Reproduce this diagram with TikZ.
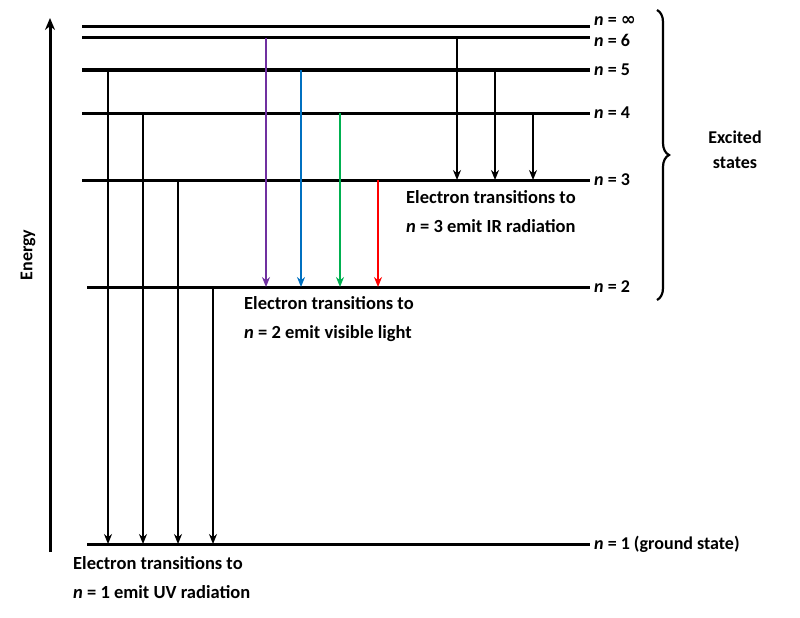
\documentclass[tikz,border=0pt]{standalone}
\usepackage{fontspec}
\setmainfont{Carlito}
\newfontfamily\symfont{DejaVu Sans}
\usetikzlibrary{arrows.meta,decorations.pathreplacing}
\definecolor{cpurple}{RGB}{112,48,160}
\definecolor{cblue}{RGB}{0,112,192}
\definecolor{cgreen}{RGB}{0,176,80}
\definecolor{cred}{RGB}{255,0,0}
\begin{document}
\begin{tikzpicture}[x=1pt,y=-1pt,
  lvl/.style={line width=3pt},
  tr/.style={line width=2.2pt,-{Stealth[length=10pt,width=8pt]}},
  lab/.style={font=\bfseries\fontsize{18}{21}\selectfont,anchor=west,inner sep=1pt},
  txt/.style={font=\bfseries\fontsize{18.5}{29}\selectfont,align=left,anchor=north west,inner sep=0pt}]
\useasboundingbox (0,0) rectangle (800,618);
\foreach \n/\y/\x in {inf/27/82, six/38/82, five/70/82, four/113/82, three/180/82, two/287/87, one/544/87}{
  \coordinate (\n L) at (\x,\y); \coordinate (\n R) at (590,\y);
  \draw[lvl] (\n L) -- (\n R);}
\node[lab] at (593,21) {\textit{n} = {\symfont\bfseries ∞}};
\node[lab] at (593,40) {\textit{n} = 6};
\node[lab] at (593,70) {\textit{n} = 5};
\node[lab] at (593,113) {\textit{n} = 4};
\node[lab] at (593,180) {\textit{n} = 3};
\node[lab] at (593,287) {\textit{n} = 2};
\node[lab] at (593,544) {\textit{n} = 1 (ground state)};
\coordinate (e0) at (50,552); \coordinate (e1) at (50,18);
\draw[line width=3pt,-{Stealth[length=12pt,width=10pt]}] (e0) -- (e1);
\node[font=\bfseries\fontsize{18}{21}\selectfont,rotate=90] (en) at (28,255) {Energy};
\foreach \x/\a/\c in {108/70/black,143/113/black,178/180/black,213/287/black,
  266/38/cpurple,301/70/cblue,340/113/cgreen,378/180/cred,
  457/38/black,495/70/black,533/113/black}{
  \pgfmathsetmacro{\b}{\x<250?544:(\x<400?287:180)}
  \coordinate (s\x) at (\x,\a); \coordinate (t\x) at (\x,\b);
  \draw[tr,draw=\c] (s\x) -- (t\x);}
\coordinate (b0) at (657,10); \coordinate (b1) at (657,300);
\draw[line width=2.2pt,decorate,decoration={brace,amplitude=12pt}] (b0) -- (b1);
\node[font=\bfseries\fontsize{18}{25}\selectfont,align=center] (ex) at (735,150) {Excited\\states};
\node[txt] (t3) at (406,190) {Electron transitions to\\\textit{n} = 3 emit IR radiation};
\node[txt] (t2) at (244,296) {Electron transitions to\\\textit{n} = 2 emit visible light};
\node[txt] (t1) at (73,556) {Electron transitions to\\\textit{n} = 1 emit UV radiation};
\end{tikzpicture}
\end{document}
